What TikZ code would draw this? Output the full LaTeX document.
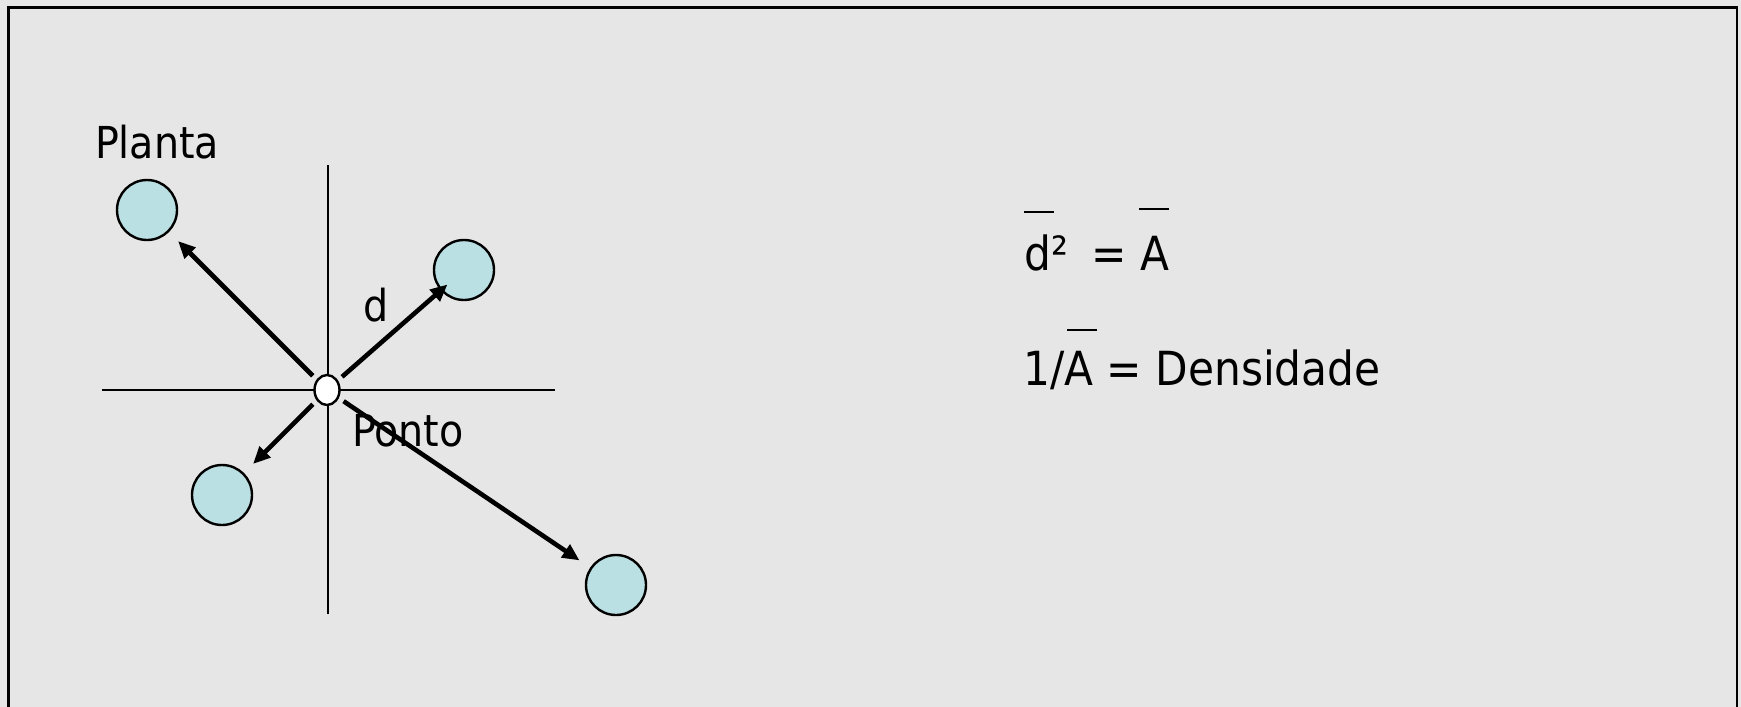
\documentclass[tikz,border=0pt]{standalone}
\usepackage{fontspec}
\setmainfont{DejaVu Sans Condensed}
\usetikzlibrary{arrows.meta,shapes.geometric}
\definecolor{bgray}{HTML}{E6E6E6}
\definecolor{plantblue}{HTML}{BBE0E3}
\begin{document}
\begin{tikzpicture}[x=0.5pt, y=-0.5pt,
  plant/.style={circle, draw, line width=1.2pt, fill=plantblue, minimum size=30pt, inner sep=0pt},
  pnt/.style={ellipse, draw, line width=1.2pt, fill=white, minimum width=12.5pt, minimum height=15pt, inner sep=0pt},
  arr/.style={line width=2.3pt, -{Triangle[length=8.5pt, width=7.5pt]}, shorten <=10pt},
  axis/.style={line width=1pt},
  lab/.style={font=\fontsize{22}{26}\selectfont, inner sep=0pt, anchor=base},
  eq/.style={font=\fontsize{23.5}{28}\selectfont, inner sep=0pt, anchor=base west},
  bar/.style={line width=1.3pt}]
  % background and frame
  \path[use as bounding box, fill=bgray] (0,0) rectangle (1741,707);
  \draw[line width=1.3pt] (8.5,707) |- (1737,7.5) -- (1737,707);
  % axes through the point
  \draw[axis] (102,390) -- (555,390);
  \draw[axis] (328,165) -- (328,614);
  % plants and point
  \node[plant] (p1) at (147,210) {};
  \node[plant] (p2) at (464,270) {};
  \node[plant] (p3) at (222,495) {};
  \node[plant] (p4) at (616,585) {};
  \node[pnt] (pt) at (327,390) {};
  \draw[arr, shorten >=22pt] (pt.center) -- (p1.center);
  \draw[arr, shorten >=11pt] (pt.center) -- (p2.center);
  \draw[arr, shorten >=22pt] (pt.center) -- (p3.center);
  \draw[arr, shorten >=22pt] (pt.center) -- (p4.center);
  % labels
  \node[lab] (planta) at (157,158.5) {Planta};
  \node[lab] (dist) at (376,321) {d};
  \node[lab] (ponto) at (408,446) {Ponto};
  % formulas
  \node[eq] (eqa) at (1024,270) {d²\hspace{5pt} = A};
  \node[eq] (eqb) at (1023,385) {1/A = Densidade};
  \draw[bar] (1024,212) -- (1054,212);
  \draw[bar] (1139,209) -- (1169,209);
  \draw[bar] (1067,330) -- (1097,330);
\end{tikzpicture}
\end{document}
